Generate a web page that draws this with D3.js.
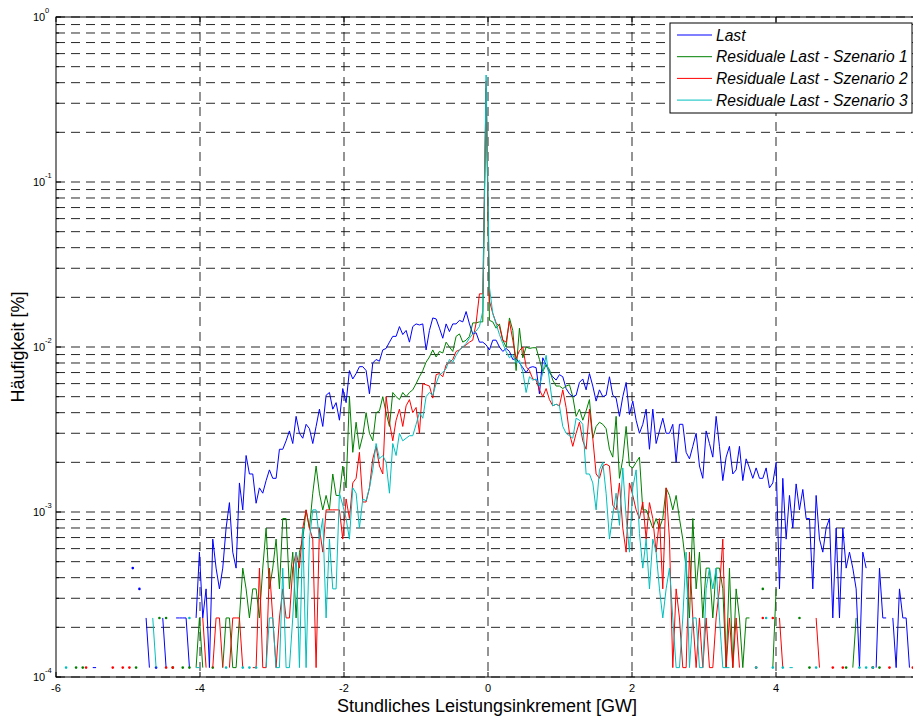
<!DOCTYPE html>
<html><head><meta charset="utf-8">
<script src="https://cdn.jsdelivr.net/npm/d3@7"></script>
<style>
body{margin:0;background:#fff}
svg{display:block}
text{font-family:"Liberation Sans",Arial,Helvetica,sans-serif}
</style>
</head><body>
<svg id="chart" width="913" height="716"></svg>
<script>
// ---- data ----
const binStart = -5.86;      // GW, centre of first histogram bin
const binWidth = 0.0463;     // GW
const xTicks = [-6, -4, -2, 0, 2, 4];
const yTickExponents = [0, -1, -2, -3, -4];
const seriesNames = ["Last", "Residuale Last - Szenario 1", "Residuale Last - Szenario 2", "Residuale Last - Szenario 3"];
const seriesColors = ["#0000ff", "#008000", "#ff0000", "#00bfbf"];

const last = [
null,null,null,null,null,null,null,null,1.14e-4,1.14e-4,
null,null,null,null,null,null,null,null,null,null,
4.57e-4,null,3.42e-4,null,2.28e-4,1.14e-4,null,1.14e-4,null,2.28e-4,
1.14e-4,null,null,2.28e-4,2.28e-4,2.28e-4,2.28e-4,1.14e-4,null,2.28e-4,
5.71e-4,2.28e-4,3.42e-4,1.14e-4,6.85e-4,4.57e-4,3.42e-4,4.57e-4,7.99e-4,1.14e-3,
5.71e-4,4.57e-4,1.5e-3,1.03e-3,2.2e-3,1.7e-3,1.7e-3,1.13e-3,1.4e-3,1.3e-3,
1.55e-3,1.8e-3,1.6e-3,1.6e-3,2.4e-3,2.4e-3,2.7e-3,3.1e-3,2.6e-3,3.8e-3,
3.0e-3,2.8e-3,3.4e-3,3.2e-3,2.6e-3,3.3e-3,4.2e-3,3.3e-3,5.1e-3,5.3e-3,
4.2e-3,4.6e-3,3.6e-3,5.6e-3,4.6e-3,7.2e-3,6.4e-3,6.9e-3,7.6e-3,7.6e-3,
7.2e-3,5.2e-3,8.0e-3,8.4e-3,8.2e-3,9.6e-3,9.8e-3,1.07e-2,1.16e-2,1.16e-2,
1.33e-2,1.19e-2,1.26e-2,1.07e-2,1.33e-2,1.38e-2,1.36e-2,1.38e-2,9.6e-3,1.26e-2,
1.5e-2,1.48e-2,1.3e-2,1.13e-2,1.38e-2,1.24e-2,1.38e-2,1.38e-2,1.45e-2,1.42e-2,
1.64e-2,1.38e-2,1.2e-2,1.22e-2,1.07e-2,1.07e-2,1.03e-2,9.6e-3,1.1e-2,1.1e-2,
1.0e-2,9.4e-3,9.8e-3,9.4e-3,8.4e-3,8.5e-3,8.0e-3,7.5e-3,7.0e-3,7.5e-3,
7.6e-3,7.5e-3,5.2e-3,8.6e-3,7.8e-3,7.0e-3,6.6e-3,6.3e-3,6.8e-3,6.6e-3,
5.6e-3,5.2e-3,5.0e-3,5.1e-3,6.1e-3,6.4e-3,5.5e-3,6.9e-3,5.8e-3,4.7e-3,
5.5e-3,5.0e-3,5.1e-3,6.6e-3,5.1e-3,4.9e-3,3.8e-3,5.0e-3,6.1e-3,3.9e-3,
4.7e-3,3.6e-3,3.0e-3,3.4e-3,4.2e-3,2.4e-3,4.2e-3,2.6e-3,3.1e-3,3.7e-3,
3.0e-3,3.0e-3,3.4e-3,2.0e-3,3.4e-3,3.4e-3,2.3e-3,2.1e-3,2.5e-3,3.0e-3,
1.9e-3,1.6e-3,3.1e-3,2.6e-3,2.15e-3,3.8e-3,2.5e-3,1.55e-3,2.15e-3,2.5e-3,
1.7e-3,1.8e-3,2.5e-3,1.55e-3,2.1e-3,1.85e-3,1.6e-3,1.85e-3,1.6e-3,1.6e-3,
1.85e-3,1.4e-3,1.5e-3,2.0e-3,3.42e-4,1.6e-3,6.85e-4,1.26e-3,7.99e-4,1.48e-3,
1.03e-3,1.37e-3,9.13e-4,9.13e-4,3.42e-4,1.26e-3,6.85e-4,5.71e-4,7.99e-4,9.13e-4,
2.28e-4,7.99e-4,2.28e-4,7.99e-4,4.57e-4,5.71e-4,4.57e-4,3.42e-4,1.14e-4,5.71e-4,
4.57e-4,null,null,1.14e-4,4.57e-4,2.28e-4,2.28e-4,null,2.28e-4,1.14e-4,
3.42e-4,2.28e-4,2.28e-4,1.14e-4,null
];

const szenario1 = [
null,null,null,1.14e-4,null,1.14e-4,null,null,null,null,
null,null,null,null,null,null,null,null,null,null,
null,1.14e-4,null,null,null,null,null,null,2.28e-4,null,
2.28e-4,null,1.14e-4,null,null,1.14e-4,null,1.14e-4,null,1.14e-4,
2.28e-4,1.14e-4,null,null,1.14e-4,null,null,1.14e-4,2.28e-4,2.28e-4,
1.14e-4,1.14e-4,2.28e-4,4.57e-4,3.42e-4,2.28e-4,3.42e-4,3.42e-4,2.28e-4,4.57e-4,
7.99e-4,3.42e-4,4.57e-4,6.85e-4,3.42e-4,9.13e-4,9.13e-4,3.42e-4,5.71e-4,2.28e-4,
5.71e-4,6.85e-4,1.03e-3,7.99e-4,1.3e-3,1.9e-3,1.3e-3,1.03e-3,1.26e-3,1.03e-3,
1.7e-3,1.26e-3,1.26e-3,1.9e-3,1.4e-3,5.0e-3,2.3e-3,3.5e-3,2.4e-3,2.9e-3,
4.0e-3,3.0e-3,2.7e-3,4.0e-3,4.1e-3,5.0e-3,4.0e-3,3.3e-3,5.3e-3,5.0e-3,
4.8e-3,5.3e-3,5.0e-3,5.3e-3,5.5e-3,6.0e-3,6.6e-3,7.2e-3,8.1e-3,8.7e-3,
9.6e-3,8.7e-3,9.4e-3,9.2e-3,1.07e-2,1.0e-2,9.4e-3,1.16e-2,1.2e-2,1.07e-2,
1.1e-2,1.16e-2,1.4e-2,1.4e-2,1.42e-2,1.42e-2,0.37,1.45e-2,1.42e-2,1.3e-2,
1.38e-2,1.1e-2,1.0e-2,1.5e-2,1.26e-2,7.2e-3,1.3e-2,8.6e-3,1.0e-2,9.8e-3,
9.9e-3,9.9e-3,8.4e-3,7.1e-3,7.8e-3,7.3e-3,6.3e-3,5.8e-3,5.8e-3,5.6e-3,
5.8e-3,5.9e-3,5.0e-3,3.8e-3,4.2e-3,3.6e-3,4.1e-3,4.8e-3,2.8e-3,3.3e-3,
3.5e-3,3.4e-3,3.2e-3,2.4e-3,2.15e-3,3.8e-3,1.6e-3,2.1e-3,3.3e-3,1.9e-3,
1.85e-3,2.0e-3,2.15e-3,1.03e-3,1.03e-3,9.13e-4,7.99e-4,9.13e-4,7.99e-4,9.13e-4,
1.4e-3,1.26e-3,1.03e-3,1.26e-3,9.13e-4,6.85e-4,4.57e-4,2.28e-4,9.13e-4,3.42e-4,
5.71e-4,2.28e-4,4.57e-4,4.57e-4,2.28e-4,4.57e-4,4.57e-4,3.42e-4,1.14e-4,4.57e-4,
1.14e-4,3.42e-4,2.28e-4,1.14e-4,2.28e-4,2.28e-4,null,null,null,3.42e-4,
null,null,1.14e-4,3.42e-4,null,null,null,null,null,null,
2.28e-4,null,null,1.14e-4,null,null,null,null,null,null,
null,null,null,null,1.14e-4,null,1.14e-4,2.28e-4,null,null,
null,null,1.14e-4,null,1.14e-4,null,null,null,null,null,
null,null,null,null,null
];

const szenario2 = [
null,null,null,null,null,null,1.14e-4,null,null,null,
null,null,null,null,1.14e-4,null,null,1.14e-4,null,1.14e-4,
null,null,null,null,null,null,null,null,null,null,
1.14e-4,null,1.14e-4,null,null,null,null,null,null,null,
null,2.28e-4,1.14e-4,null,1.14e-4,2.28e-4,2.28e-4,1.14e-4,null,1.14e-4,
2.28e-4,2.28e-4,2.28e-4,1.14e-4,null,null,1.14e-4,1.14e-4,4.57e-4,1.14e-4,
1.14e-4,4.57e-4,2.28e-4,1.14e-4,2.28e-4,3.42e-4,2.28e-4,2.28e-4,4.57e-4,5.71e-4,
4.57e-4,7.99e-4,1.03e-3,7.99e-4,6.85e-4,1.14e-4,7.99e-4,5.71e-4,1.03e-3,1.03e-3,
1.03e-3,1.03e-3,1.03e-3,6.85e-4,1.2e-3,9.13e-4,1.5e-3,1.6e-3,2.3e-3,1.15e-3,
1.15e-3,1.4e-3,2.1e-3,2.5e-3,1.9e-3,1.7e-3,5.0e-3,3.5e-3,2.7e-3,3.6e-3,
4.2e-3,3.3e-3,4.4e-3,4.8e-3,4.0e-3,4.3e-3,3.0e-3,6.0e-3,5.9e-3,5.8e-3,
4.9e-3,6.8e-3,6.9e-3,6.6e-3,7.8e-3,8.1e-3,8.4e-3,9.4e-3,9.6e-3,1.0e-2,
1.03e-2,1.07e-2,1.1e-2,1.4e-2,2.1e-2,2.1e-2,0.41,1.9e-2,1.6e-2,1.4e-2,
1.33e-2,1.1e-2,1.07e-2,1.43e-2,1.1e-2,8.5e-3,9.5e-3,1.0e-2,7.6e-3,7.2e-3,
6.4e-3,6.3e-3,5.5e-3,5.0e-3,5.6e-3,4.8e-3,4.4e-3,4.5e-3,4.4e-3,5.5e-3,
4.3e-3,3.0e-3,2.5e-3,3.0e-3,3.5e-3,2.7e-3,2.4e-3,4.2e-3,2.8e-3,1.7e-3,
1.6e-3,1.9e-3,1.95e-3,1.9e-3,1.1e-3,1.03e-3,1.5e-3,7.99e-4,5.71e-4,1.5e-3,
1.26e-3,1.03e-3,9.13e-4,1.15e-3,6.85e-4,1.14e-3,9.13e-4,5.71e-4,9.13e-4,3.42e-4,
1.4e-3,6.85e-4,1.14e-4,3.42e-4,2.28e-4,1.14e-4,1.14e-4,5.71e-4,2.28e-4,1.14e-4,
2.28e-4,1.14e-4,2.28e-4,1.14e-4,1.14e-4,2.28e-4,3.42e-4,6.85e-4,1.14e-4,2.28e-4,
1.14e-4,2.28e-4,1.14e-4,null,null,null,null,1.14e-4,null,2.28e-4,
null,null,2.28e-4,null,2.28e-4,1.14e-4,null,null,null,null,
null,null,null,null,null,2.28e-4,1.14e-4,null,null,null,
1.14e-4,null,null,1.14e-4,null,null,null,null,null,null,
null,null,1.14e-4,null,null,null,null,1.14e-4,null,null,
null,null,null,null,1.14e-4
];

const szenario3 = [
1.14e-4,null,null,null,null,null,null,null,null,null,
null,null,null,null,null,null,null,null,null,null,
null,null,null,null,null,null,2.28e-4,1.14e-4,null,null,
null,null,null,null,null,null,null,2.28e-4,null,1.14e-4,
1.14e-4,null,null,null,null,null,null,null,1.14e-4,null,
null,null,null,1.14e-4,null,1.14e-4,null,1.14e-4,null,null,
1.14e-4,2.28e-4,2.28e-4,1.14e-4,1.14e-4,4.57e-4,1.14e-4,1.14e-4,2.28e-4,5.71e-4,
1.14e-4,7.99e-4,1.14e-4,6.85e-4,1.03e-3,1.03e-3,6.85e-4,9.13e-4,2.28e-4,6.85e-4,
3.42e-4,3.42e-4,1.3e-3,1.1e-3,9.13e-4,6.85e-4,1.4e-3,1.3e-3,7.99e-4,1.2e-3,
1.17e-3,1.4e-3,1.8e-3,2.6e-3,2.1e-3,2.2e-3,2.0e-3,1.3e-3,2.6e-3,2.2e-3,
3.0e-3,2.7e-3,2.8e-3,2.9e-3,2.9e-3,3.4e-3,4.0e-3,3.7e-3,5.0e-3,5.3e-3,
5.1e-3,6.0e-3,6.8e-3,7.0e-3,7.4e-3,8.4e-3,8.1e-3,8.9e-3,9.6e-3,1.0e-2,
1.05e-2,1.13e-2,1.2e-2,1.25e-2,1.33e-2,1.65e-2,0.445,2.3e-2,1.6e-2,1.38e-2,
1.19e-2,1.05e-2,9.4e-3,8.6e-3,9.0e-3,8.0e-3,8.3e-3,7.1e-3,5.3e-3,6.6e-3,
6.3e-3,6.4e-3,5.8e-3,7.0e-3,8.9e-3,6.3e-3,4.4e-3,4.5e-3,4.4e-3,3.3e-3,
3.0e-3,2.9e-3,2.8e-3,3.7e-3,3.6e-3,3.4e-3,1.7e-3,1.7e-3,1.5e-3,1.03e-3,
1.8e-3,2.0e-3,1.3e-3,6.85e-4,9.6e-4,1.3e-3,8.3e-4,1.85e-3,9.3e-4,5.71e-4,
1.4e-3,1.8e-3,7.4e-4,4.57e-4,6.85e-4,3.42e-4,6.85e-4,5.71e-4,3.42e-4,2.28e-4,
3.42e-4,4.57e-4,2.28e-4,1.14e-4,1.14e-4,2.28e-4,5.71e-4,1.14e-4,2.28e-4,2.28e-4,
1.14e-4,1.14e-4,3.42e-4,4.57e-4,3.42e-4,4.57e-4,2.28e-4,1.14e-4,1.14e-4,1.14e-4,
null,null,null,null,null,null,null,1.14e-4,null,null,
2.28e-4,null,1.14e-4,null,null,1.14e-4,null,1.14e-4,1.14e-4,null,
null,null,null,null,null,1.14e-4,null,null,null,null,
null,null,null,null,null,null,null,null,1.14e-4,null,
1.14e-4,null,1.14e-4,null,null,null,null,null,null,null,
null,null,null,null,null
];

const seriesValues = [last, szenario1, szenario2, szenario3];

// ---- layout ----
const plot = {left: 56, top: 17, right: 920, bottom: 677};
const svg = d3.select("#chart");

const x = d3.scaleLinear().domain([-6, 6]).range([plot.left, plot.right]);
const y = d3.scaleLog().domain([1e-4, 1]).range([plot.bottom, plot.top]);

// grid values (major + minor decades)
const yGrid = [];
yTickExponents.forEach(e => { if (e < 0) for (let k = 1; k <= 9; k++) yGrid.push(k * Math.pow(10, e)); });
yGrid.push(1);

const gGrid = svg.append("g").attr("fill", "none").attr("stroke", "#000").attr("stroke-width", 0.85).attr("stroke-dasharray", "9,6");
gGrid.selectAll("line.h").data(yGrid).join("line").attr("class", "h")
  .attr("x1", plot.left).attr("x2", plot.right)
  .attr("y1", d => y(d)).attr("y2", d => y(d));
gGrid.selectAll("line.v").data(xTicks.filter(t => t > -6)).join("line").attr("class", "v")
  .attr("y1", plot.top).attr("y2", plot.bottom)
  .attr("x1", d => x(d)).attr("x2", d => x(d));

// axes box
const gAxis = svg.append("g").attr("stroke", "#000").attr("stroke-width", 1);
gAxis.append("rect").attr("x", plot.left).attr("y", plot.top)
  .attr("width", plot.right - plot.left).attr("height", plot.bottom - plot.top)
  .attr("fill", "none");
// ticks (inside)
xTicks.forEach(t => {
  gAxis.append("line").attr("x1", x(t)).attr("x2", x(t)).attr("y1", plot.bottom).attr("y2", plot.bottom - 5);
  gAxis.append("line").attr("x1", x(t)).attr("x2", x(t)).attr("y1", plot.top).attr("y2", plot.top + 5);
});
yGrid.forEach(v => {
  const major = Math.abs(Math.log10(v) - Math.round(Math.log10(v))) < 1e-9;
  gAxis.append("line").attr("x1", plot.left).attr("x2", plot.left + (major ? 5 : 3)).attr("y1", y(v)).attr("y2", y(v));
});

// tick labels
const gLab = svg.append("g").attr("fill", "#000");
xTicks.forEach(t => {
  gLab.append("text").attr("x", x(t)).attr("y", plot.bottom + 15).attr("text-anchor", "middle")
    .attr("font-size", 11).text(String(t));
});
yTickExponents.forEach(e => {
  const yy = y(Math.pow(10, e));
  gLab.append("text").attr("x", 33).attr("y", yy + 4).attr("font-size", 11).text("10");
  gLab.append("text").attr("x", 45).attr("y", yy - 4).attr("font-size", 7.5).text(String(e));
});

// axis titles
svg.append("text").attr("x", 487).attr("y", 712).attr("text-anchor", "middle")
  .attr("font-size", 18).text("Stundliches Leistungsinkrement [GW]");
svg.append("text").attr("transform", "translate(24," + ((plot.top + plot.bottom) / 2) + ") rotate(-90)")
  .attr("text-anchor", "middle").attr("font-size", 18).text("Häufigkeit [%]");

// data
const gData = svg.append("g");
seriesValues.forEach((vals, si) => {
  const pts = vals.map((v, i) => ({x: binStart + i * binWidth, v: v}));
  const line = d3.line().defined(d => d.v != null && d.v > 0).x(d => x(d.x)).y(d => y(d.v));
  gData.append("path").datum(pts).attr("d", line).attr("fill", "none")
    .attr("stroke", seriesColors[si]).attr("stroke-width", 1).attr("stroke-linejoin", "round");
  const iso = pts.filter((d, i) => d.v != null && (i === 0 || pts[i - 1].v == null) && (i === pts.length - 1 || pts[i + 1].v == null));
  gData.selectAll(null).data(iso).join("circle").attr("cx", d => x(d.x)).attr("cy", d => y(d.v))
    .attr("r", 1.3).attr("fill", seriesColors[si]);
});

// legend
const lg = svg.append("g");
lg.append("rect").attr("x", 670).attr("y", 23).attr("width", 242).attr("height", 90)
  .attr("fill", "#fff").attr("stroke", "#000").attr("stroke-width", 1);
seriesNames.forEach((name, i) => {
  const cy = 35 + i * 21.7;
  lg.append("line").attr("x1", 677).attr("x2", 712).attr("y1", cy).attr("y2", cy)
    .attr("stroke", seriesColors[i]).attr("stroke-width", 1);
  lg.append("text").attr("x", 716).attr("y", cy + 5.5).attr("font-size", 15.6)
    .attr("font-style", "italic").text(name);
});
</script>
</body></html>
